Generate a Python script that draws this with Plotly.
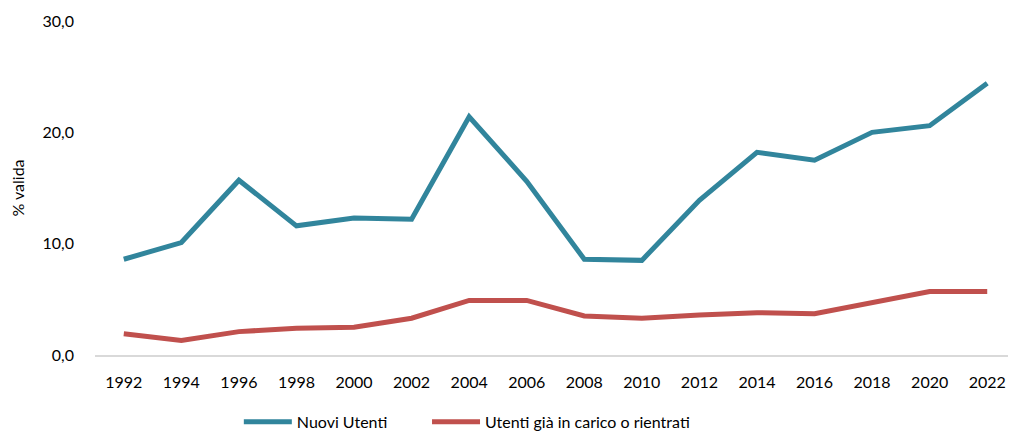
import plotly.graph_objects as go

years = [str(y) for y in range(1992, 2023, 2)]
nuovi_utenti = [8.6, 10.1, 15.7, 11.6, 12.3, 12.2, 21.4, 15.6,
                8.6, 8.5, 13.9, 18.2, 17.5, 20.0, 20.6, 24.4]
utenti_in_carico = [1.9, 1.3, 2.1, 2.4, 2.5, 3.3, 4.9, 4.9,
                    3.5, 3.3, 3.6, 3.8, 3.7, 4.7, 5.7, 5.7]

TEAL = "#31859C"
RED = "#C0504D"
FONT = "Lato, 'Noto Sans', sans-serif"

fig = go.Figure()
fig.add_trace(go.Scatter(x=years, y=nuovi_utenti, mode="lines", name="Nuovi Utenti",
                         line=dict(color=TEAL, width=5), legend="legend"))
fig.add_trace(go.Scatter(x=years, y=utenti_in_carico, mode="lines",
                         name="Utenti già in carico o rientrati",
                         line=dict(color=RED, width=5), legend="legend2"))

leg = dict(orientation="h", xref="container", xanchor="left",
           yref="container", y=0.033, yanchor="middle",
           font=dict(size=16), itemwidth=48, bgcolor="rgba(0,0,0,0)")

# the page body keeps an 8px margin, so the figure is 8px smaller each way
fig.update_layout(
    width=1008, height=428,
    paper_bgcolor="white", plot_bgcolor="white",
    margin=dict(l=87, r=0, t=13, b=81),
    separators=",.",
    font=dict(family=FONT, size=16, color="#000000"),
    showlegend=True,
    legend=dict(leg, x=0.229),
    legend2=dict(leg, x=0.4157),
    xaxis=dict(type="category", range=[-0.5, 15.5], automargin=False,
               showgrid=False, showline=True, linecolor="#D9D9D9",
               linewidth=2, ticks="", ticklabelstandoff=12, tickfont=dict(size=16)),
    yaxis=dict(range=[0, 30], dtick=10, tickformat=".1f", showgrid=False,
               automargin=False, zeroline=False, showline=False, ticks="",
               ticklabelstandoff=20, tickfont=dict(size=16),
               title=dict(text="% valida", font=dict(size=16), standoff=15)),
)

fig.write_html("out.html")
